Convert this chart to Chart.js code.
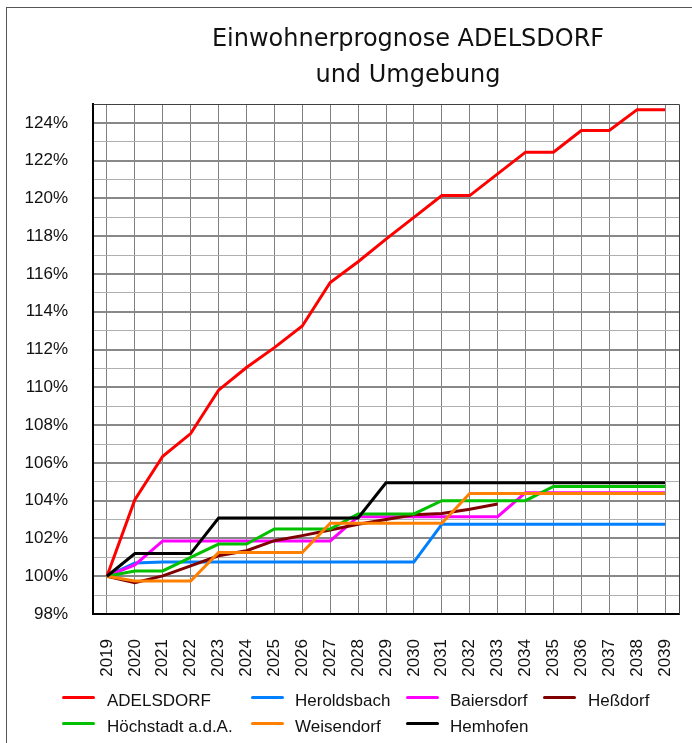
<!DOCTYPE html>
<html>
<head>
<meta charset="utf-8">
<script src="https://cdn.jsdelivr.net/npm/chart.js@4.4.1/dist/chart.umd.min.js"></script>
<style>
  body { margin: 0; background: #fff; overflow: hidden; }
  #wrap { position: relative; width: 692px; height: 743px; overflow: hidden; }
  #frame { position: absolute; left: 6px; top: 7px; right: -10px; bottom: -10px;
           border-left: 1px solid #555; border-top: 1px solid #555; }
  #title { position: absolute; left: 124px; width: 568px; top: 20px; text-align: center;
           font: 24px "DejaVu Sans"; line-height: 36px; color: #111; }
  .lg-line { position: absolute; width: 33px; height: 3px; border-radius: 2px; }
  .lg-text { position: absolute; font: 17px "Liberation Sans"; line-height: 20px;
             white-space: nowrap; color: #111; }
  canvas { position: absolute; left: 0; top: 0; }
</style>
</head>
<body>
<div id="wrap">
  <div id="frame"></div>
  <canvas id="chart" width="692" height="743"></canvas>
  <div id="title">Einwohnerprognose ADELSDORF<br>und Umgebung</div>
  <div id="legend"></div>
</div>
<script>
// Data (index 100% = 2019)
const years = ['2019','2020','2021','2022','2023','2024','2025','2026','2027','2028','2029',
               '2030','2031','2032','2033','2034','2035','2036','2037','2038','2039'];

const adelsdorf   = [100, 104.05, 106.35, 107.55, 109.85, 111.05, 112.1, 113.25, 115.55, 116.65, 117.85,
                     119.0, 120.15, 120.15, 121.3, 122.45, 122.45, 123.6, 123.6, 124.7, 124.7];
const heroldsbach = [100, 100.7, 100.75, 100.75, 100.75, 100.75, 100.75, 100.75, 100.75, 100.75, 100.75,
                     100.75, 102.75, 102.75, 102.75, 102.75, 102.75, 102.75, 102.75, 102.75, 102.75];
const baiersdorf  = [100, 100.6, 101.87, 101.87, 101.87, 101.87, 101.87, 101.87, 101.87, 103.15, 103.15,
                     103.15, 103.15, 103.15, 103.15, 104.42, 104.42, 104.42, 104.42, 104.42, 104.42];
const hessdorf    = [100, 99.66, 100.02, 100.55, 101.08, 101.35, 101.88, 102.15, 102.45, 102.75, 103.0,
                     103.25, 103.32, 103.55, 103.82, null, null, null, null, null, null];
const hoechstadt  = [100, 100.28, 100.28, 101.0, 101.7, 101.7, 102.5, 102.5, 102.5, 103.3, 103.3,
                     103.3, 104.0, 104.0, 104.0, 104.0, 104.75, 104.75, 104.75, 104.75, 104.75];
const weisendorf  = [100, 99.75, 99.75, 99.75, 101.26, 101.26, 101.26, 101.26, 102.8, 102.8, 102.8,
                     102.8, 102.8, 104.38, 104.38, 104.38, 104.38, 104.38, 104.38, 104.38, 104.38];
const hemhofen    = [100, 101.2, 101.2, 101.2, 103.08, 103.08, 103.08, 103.08, 103.08, 103.08, 104.95,
                     104.95, 104.95, 104.95, 104.95, 104.95, 104.95, 104.95, 104.95, 104.95, 104.95];

const seriesNames = ['ADELSDORF', 'Heroldsbach', 'Baiersdorf', 'Heßdorf', 'Höchstadt a.d.A.', 'Weisendorf', 'Hemhofen'];
const seriesData = [adelsdorf, heroldsbach, baiersdorf, hessdorf, hoechstadt, weisendorf, hemhofen];
const seriesColors = ['#ff0000', '#0080ff', '#ff00ff', '#800000', '#00c000', '#ff8000', '#000000'];

const yMin = 98, yMax = 125;

// later series painted on top, like the original
const datasets = seriesNames.map((name, i) => ({
  label: name,
  data: seriesData[i],
  borderColor: seriesColors[i],
  backgroundColor: seriesColors[i],
  borderWidth: 3,
  pointRadius: 0,
  tension: 0,
  fill: false,
  spanGaps: false,
  order: seriesNames.length - i
}));

// top / right frame of the plot area
const plotFrame = {
  id: 'plotFrame',
  afterDraw(chart) {
    const {ctx, chartArea: a} = chart;
    ctx.save();
    ctx.strokeStyle = '#404040';
    ctx.lineWidth = 1;
    ctx.beginPath();
    ctx.moveTo(Math.round(a.left) + 0.5, Math.round(a.top) + 0.5);
    ctx.lineTo(Math.round(a.right) + 0.5, Math.round(a.top) + 0.5);
    ctx.lineTo(Math.round(a.right) + 0.5, Math.round(a.bottom) + 0.5);
    ctx.stroke();
    ctx.restore();
  }
};

const isMajor = c => c.tick && Math.round(c.tick.value) % 2 === 0;

const chart = new Chart(document.getElementById('chart'), {
  type: 'line',
  data: { labels: years, datasets: datasets },
  plugins: [plotFrame],
  options: {
    responsive: false,
    animation: false,
    layout: { padding: { top: 104, left: 0, right: 13, bottom: 49 } },
    plugins: {
      legend: { display: false },
      title: { display: false },
      tooltip: { enabled: false }
    },
    scales: {
      x: {
        offset: true,
        grid: { offset: false, color: '#808080', lineWidth: 1, drawTicks: false },
        border: { color: '#000', width: 2 },
        ticks: {
          autoSkip: false, maxRotation: 90, minRotation: 90, padding: 25,
          color: '#111', font: { family: 'Liberation Sans', size: 17 }
        },
        afterFit: s => { s.height = 80; s.paddingLeft = 0; s.paddingRight = 0; }
      },
      y: {
        min: yMin, max: yMax,
        grid: {
          drawTicks: false,
          color: c => isMajor(c) ? '#888888' : '#b0b0b0',
          lineWidth: c => isMajor(c) ? 2 : 1
        },
        border: { color: '#000', width: 2 },
        ticks: {
          stepSize: 1, autoSkip: false, padding: 25,
          color: '#111', font: { family: 'Liberation Sans', size: 17 },
          callback: v => (Math.round(v) % 2 === 0 ? v + '%' : '')
        },
        afterFit: s => { s.width = 93; s.paddingTop = 0; s.paddingBottom = 0; }
      }
    }
  }
});

// legend in four columns, two rows
const legendCols = [[62, 107], [251, 295], [406, 450], [543, 588]];
const legendRows = [[696, 691], [722, 717]];
const legend = document.getElementById('legend');
chart.data.datasets.forEach((ds, i) => {
  const col = legendCols[i % 4], row = legendRows[Math.floor(i / 4)];
  const line = document.createElement('div');
  line.className = 'lg-line';
  line.style.left = col[0] + 'px';
  line.style.top = row[0] + 'px';
  line.style.background = ds.borderColor;
  const txt = document.createElement('div');
  txt.className = 'lg-text';
  txt.style.left = col[1] + 'px';
  txt.style.top = row[1] + 'px';
  txt.textContent = ds.label;
  legend.appendChild(line);
  legend.appendChild(txt);
});
</script>
</body>
</html>
